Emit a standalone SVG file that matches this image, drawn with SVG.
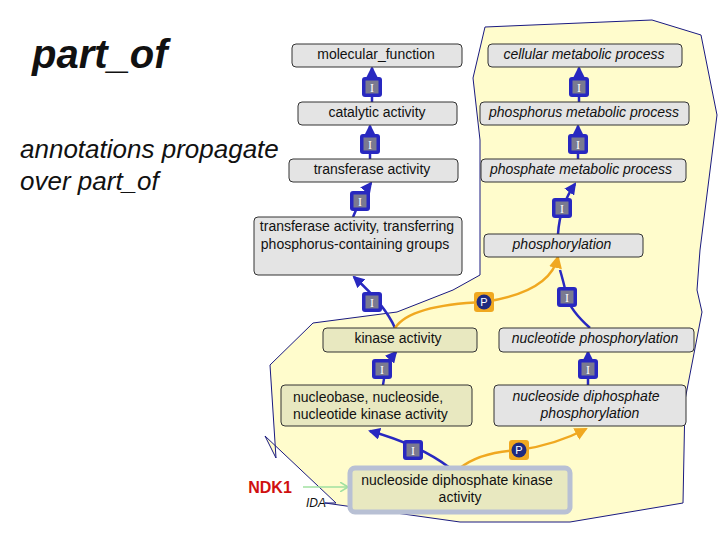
<svg xmlns="http://www.w3.org/2000/svg" width="720" height="540" viewBox="0 0 720 540">
<style>
.n rect{stroke:#333;stroke-width:1}
.g{fill:#e4e4e4}.b{fill:#e8e8c0}
text{font-family:"Liberation Sans",Arial,sans-serif;font-size:14px;fill:#111;text-anchor:middle}
.it{font-style:italic}
.e{fill:none;stroke:#2828c0;stroke-width:2.5}
.o{fill:none;stroke:#f0a820;stroke-width:2.5}
</style>
<defs>
<marker id="ab" markerWidth="12" markerHeight="12" refX="10" refY="6" orient="auto" markerUnits="userSpaceOnUse" viewBox="0 0 12 12"><path d="M0,0L12,6L0,12z" fill="#2828c0"/></marker>
<marker id="ao" markerWidth="13" markerHeight="13" refX="11" refY="6.5" orient="auto" markerUnits="userSpaceOnUse" viewBox="0 0 13 13"><path d="M0,0L13,6.5L0,13z" fill="#f0a820"/></marker>
<marker id="ag" markerWidth="8" markerHeight="10" refX="7" refY="5" orient="auto" markerUnits="userSpaceOnUse" viewBox="0 0 8 10"><path d="M0,0L8,5L0,10" fill="none" stroke="#a0e0a0" stroke-width="1.5"/></marker>
<g id="bI"><rect x="-10" y="-10" width="20" height="20" rx="3" fill="#2828c0"/><rect x="-6.5" y="-6.5" width="13" height="13" fill="#7a7a90"/><text y="4.5" style="fill:#fff;font-size:12px;font-family:'Liberation Serif',serif">I</text></g>
<g id="bP"><rect x="-10" y="-10" width="20" height="20" rx="3" fill="#f0a820"/><circle r="7.5" fill="#1e2a80"/><text y="4" style="fill:#fff;font-size:11px">P</text></g>
</defs>
<path d="M485,27L652,20L701,35L717,115L700,250L697,290L702,312L685,400L683,503L570,522L460,522L325,503L336,503L265,436L276,458L270,365L313,323L397,312L453,290L480,275L480,140L473,78Z" fill="#fffccc" stroke="#1a1a80" stroke-width="1"/>
<text x="32" y="68" style="font-size:40px;font-weight:bold;font-style:italic;text-anchor:start">part_of</text>
<text x="20" y="158" style="font-size:26px;font-style:italic;text-anchor:start">annotations propagate</text>
<text x="20" y="190" style="font-size:26px;font-style:italic;text-anchor:start">over part_of</text>
<g id="connectors">
<path class="e" d="M372,102V68" marker-end="url(#ab)"/>
<path class="e" d="M370,159V126" marker-end="url(#ab)"/>
<path class="e" d="M353,217Q362,195 371,183" marker-end="url(#ab)"/>
<path class="e" d="M395,328Q385,305 354,277" marker-end="url(#ab)"/>
<path class="e" d="M383,385Q385,365 396,352" marker-end="url(#ab)"/>
<path class="e" d="M450,468Q420,445 370,431" marker-end="url(#ab)"/>
<path class="e" d="M588,385V352" marker-end="url(#ab)"/>
<path class="e" d="M590,328Q570,310 567,297Q563,280 560,270"/>
<path class="e" d="M558,234Q560,205 575,184" marker-end="url(#ab)"/>
<path class="e" d="M578,159V126" marker-end="url(#ab)"/>
<path class="e" d="M579,102V68" marker-end="url(#ab)"/>
<path class="o" d="M460,468Q480,452 519,450Q555,445 586,429" marker-end="url(#ao)"/>
<path class="o" d="M395,328Q410,305 484,302Q550,292 558,257" marker-end="url(#ao)"/>
<path d="M303,487H347" stroke="#a0e0a0" stroke-width="1.5" marker-end="url(#ag)"/>
<use href="#bI" x="372" y="87"/><use href="#bI" x="370" y="144"/><use href="#bI" x="360" y="201"/>
<use href="#bI" x="372" y="302"/><use href="#bI" x="382" y="369"/><use href="#bI" x="413" y="450"/>
<use href="#bI" x="588" y="369"/><use href="#bI" x="567" y="297"/><use href="#bI" x="562" y="208"/>
<use href="#bI" x="578" y="144"/><use href="#bI" x="579" y="87"/>
<use href="#bP" x="519" y="450"/><use href="#bP" x="484" y="302"/>
</g>
<g id="mf" class="n"><rect class="g" x="292" y="44" width="170" height="23" rx="4"/><text x="376" y="59">molecular_function</text></g>
<g id="ca" class="n"><rect class="g" x="298" y="102" width="159" height="23" rx="4"/><text x="377" y="117">catalytic activity</text></g>
<g id="ta" class="n"><rect class="g" x="289" y="159" width="169" height="23" rx="4"/><text x="372" y="174">transferase activity</text></g>
<g id="tat" class="n"><rect class="g" x="254" y="217" width="208" height="58" rx="4"/><text x="357" y="231">transferase activity, transferring</text><text x="355" y="249">phosphorus-containing groups</text></g>
<g id="cmp" class="n"><rect class="g" x="488" y="44" width="194" height="23" rx="4"/><text class="it" x="584" y="59">cellular metabolic process</text></g>
<g id="pmp" class="n"><rect class="g" x="480" y="102" width="209" height="23" rx="4"/><text class="it" x="584" y="117">phosphorus metabolic process</text></g>
<g id="phmp" class="n"><rect class="g" x="481" y="159" width="205" height="23" rx="4"/><text class="it" x="581" y="174">phosphate metabolic process</text></g>
<g id="phos" class="n"><rect class="g" x="484" y="234" width="159" height="23" rx="4"/><text class="it" x="562" y="249">phosphorylation</text></g>
<g id="ka" class="n"><rect class="b" x="323" y="328" width="154" height="24" rx="4"/><text x="398" y="343">kinase activity</text></g>
<g id="np" class="n"><rect class="g" x="499" y="328" width="195" height="24" rx="4"/><text class="it" x="595" y="343">nucleotide phosphorylation</text></g>
<g id="nnk" class="n"><rect class="b" x="281" y="385" width="191" height="41" rx="4"/><text x="293" y="402" style="text-anchor:start">nucleobase, nucleoside,</text><text x="293" y="419" style="text-anchor:start">nucleotide kinase activity</text></g>
<g id="ndp" class="n"><rect class="g" x="494" y="385" width="192" height="41" rx="4"/><text class="it" x="586" y="401">nucleoside diphosphate</text><text class="it" x="590" y="418">phosphorylation</text></g>
<g id="ndk"><rect x="350" y="468" width="220" height="44" rx="5" fill="#e8e8c0" stroke="#b8c0d4" stroke-width="5"/><text x="457" y="485">nucleoside diphosphate kinase</text><text x="460" y="502">activity</text></g>
<g id="ndk1"><text x="270" y="493" style="fill:#d01010;font-weight:bold;font-size:16px">NDK1</text><text x="316" y="507" class="it" style="font-size:12px">IDA</text></g>
</svg>
